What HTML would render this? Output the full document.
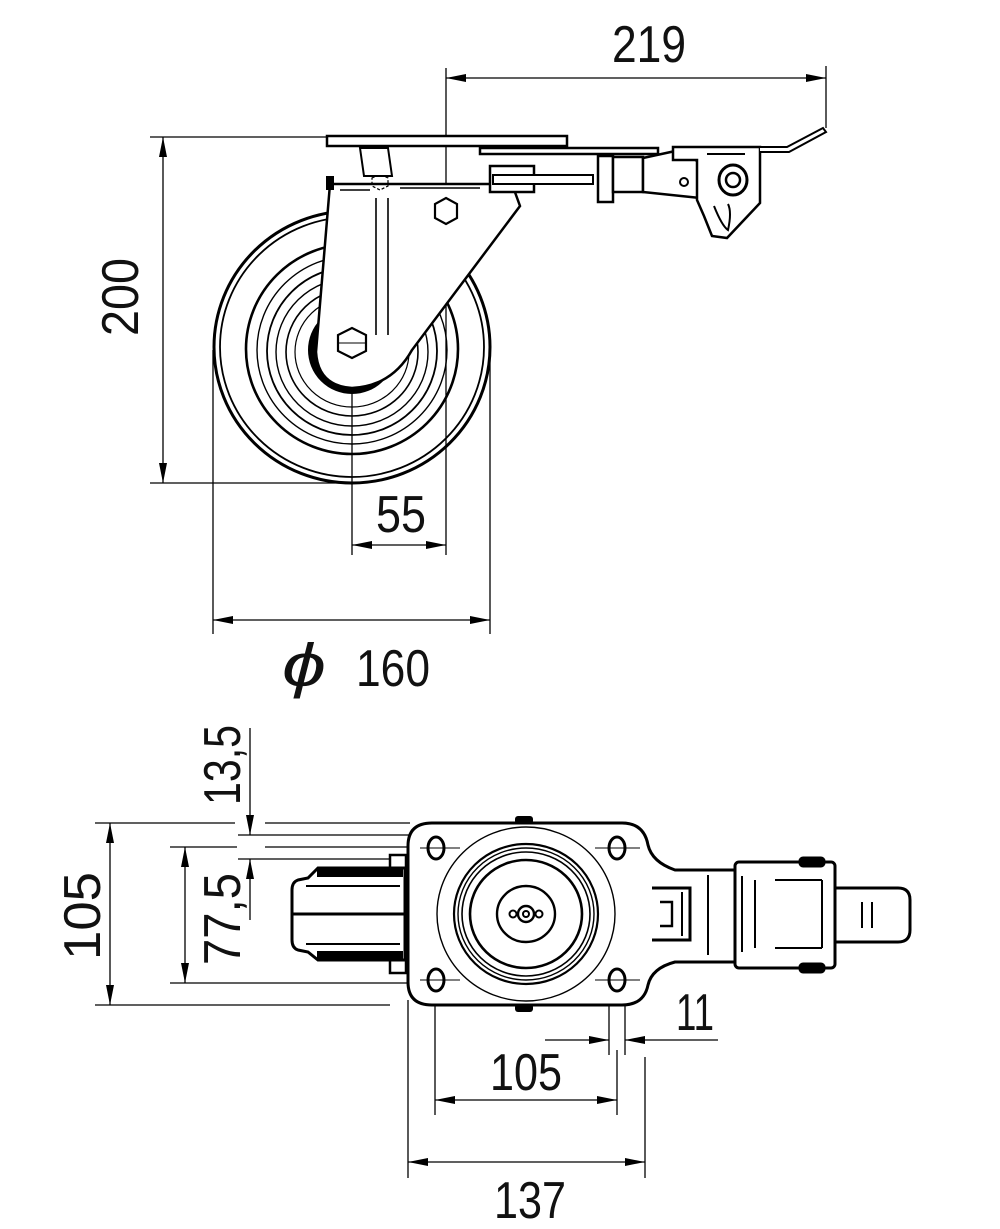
<!DOCTYPE html>
<html><head><meta charset="utf-8"><style>
html,body{margin:0;padding:0;background:#fff}
svg{display:block}
text{font-family:"Liberation Sans",sans-serif;fill:#111}
</style></head><body>
<svg width="1000" height="1229" viewBox="0 0 1000 1229" xmlns="http://www.w3.org/2000/svg">
<defs>
<marker id="a" viewBox="0 0 20 8" refX="20" refY="4" markerWidth="20" markerHeight="8" markerUnits="userSpaceOnUse" orient="auto-start-reverse"><path d="M0,0 L20,4 L0,8 z" fill="#000"/></marker>
</defs>
<g stroke="#000" stroke-width="1.3" fill="none">
<!-- TOP VIEW dimensions -->
<line x1="446" y1="68" x2="446" y2="555"/>
<line x1="826" y1="66" x2="826" y2="128"/>
<line x1="446" y1="78" x2="826" y2="78" marker-start="url(#a)" marker-end="url(#a)"/>
<line x1="150" y1="137" x2="330" y2="137"/>
<line x1="150" y1="483" x2="352" y2="483"/>
<line x1="163" y1="137" x2="163" y2="483" marker-start="url(#a)" marker-end="url(#a)"/>
<line x1="352" y1="330" x2="352" y2="555"/>
<line x1="352" y1="545" x2="446" y2="545" marker-start="url(#a)" marker-end="url(#a)"/>
<line x1="213" y1="350" x2="213" y2="634"/>
<line x1="490" y1="350" x2="490" y2="634"/>
<line x1="213" y1="620" x2="490" y2="620" marker-start="url(#a)" marker-end="url(#a)"/>
</g>
<g font-size="52">
<text x="612" y="62" textLength="74" lengthAdjust="spacingAndGlyphs">219</text>
<text transform="translate(138,336) rotate(-90)" textLength="78" lengthAdjust="spacingAndGlyphs">200</text>
<text x="376" y="532" textLength="50" lengthAdjust="spacingAndGlyphs">55</text>
<text x="282" y="686" font-size="60" font-style="italic" textLength="44" lengthAdjust="spacingAndGlyphs">ϕ</text>
<text x="356" y="686" textLength="74" lengthAdjust="spacingAndGlyphs">160</text>
</g>
<!-- WHEEL -->
<g stroke="#000" fill="none">
<ellipse cx="352" cy="347" rx="138" ry="136" stroke-width="3"/>
<ellipse cx="352" cy="347" rx="132" ry="130" stroke-width="1.8"/>
<ellipse cx="352" cy="349" rx="106" ry="105" stroke-width="2.6"/>
<ellipse cx="352" cy="350" rx="95" ry="94" stroke-width="1.4"/>
<ellipse cx="352" cy="351" rx="85" ry="84" stroke-width="1.8"/>
<ellipse cx="352" cy="352" rx="76" ry="74" stroke-width="1.4"/>
<ellipse cx="352" cy="352" rx="66" ry="64" stroke-width="1.6"/>
<ellipse cx="352" cy="352" rx="57" ry="55" stroke-width="1.2"/>
<ellipse cx="352" cy="350" rx="40" ry="40" stroke-width="8"/>
</g>
<!-- fork -->
<path d="M330,184 L512,184 L520,206 L412,350 Q392,386 352,388 Q318,386 316,352 Z" fill="#fff" stroke="#000" stroke-width="2.5"/>
<line x1="376" y1="198" x2="376" y2="335" stroke="#000" stroke-width="1.6"/>
<line x1="388" y1="198" x2="388" y2="335" stroke="#000" stroke-width="1.6"/>
<line x1="340" y1="190" x2="370" y2="190" stroke="#000" stroke-width="1.6"/>
<line x1="400" y1="188" x2="480" y2="188" stroke="#000" stroke-width="1.6"/>
<path d="M372,178 l8,-4 8,4 0,8 -8,4 -8,-4z" fill="none" stroke="#000" stroke-width="1.2" stroke-dasharray="3,2"/>
<polygon points="352,328 366,335 366,351 352,358 338,351 338,335" fill="#fff" stroke="#000" stroke-width="2.2"/>
<line x1="338" y1="343" x2="366" y2="343" stroke="#000" stroke-width="1"/>
<polygon points="446,198 457,204 457,218 446,224 435,218 435,204" fill="#fff" stroke="#000" stroke-width="2.2"/>
<rect x="326" y="176" width="8" height="14" fill="#000"/>
<!-- plate & brake -->
<g stroke="#000" fill="#fff" stroke-width="2.5">
<path d="M360,148 L388,148 L392,176 L364,176 Z" stroke-width="2"/>
<rect x="327" y="136" width="240" height="10"/>
<rect x="480" y="148" width="178" height="6"/>
<rect x="490" y="166" width="44" height="26"/>
<rect x="493" y="175" width="100" height="9" stroke-width="2"/>
<rect x="598" y="156" width="15" height="46"/>
<rect x="613" y="157" width="30" height="35"/>
<path d="M643,158 L680,150 L700,163 L700,198 L643,192 Z"/>
<path d="M673,147 L760,147 L760,203 L727,238 L712,236 L704,216 L697,200 L697,160 L673,160 Z"/>
<path d="M760,147 L787,147 L823,128 L826,132 L789,152 L760,152" stroke-width="2"/>
<ellipse cx="733" cy="180" rx="14" ry="15" stroke-width="3"/>
<circle cx="733" cy="180" r="7" stroke-width="2.5"/>
<circle cx="684" cy="182" r="4" stroke-width="2"/>
<path d="M714,206 Q722,226 728,230 Q732,212 728,204" stroke-width="2"/>
</g>
<line x1="707" y1="154" x2="745" y2="154" stroke="#000" stroke-width="2"/>

<!-- BOTTOM VIEW -->
<g stroke="#000" stroke-width="1.3" fill="none">
<line x1="95" y1="823" x2="235" y2="823"/><line x1="265" y1="823" x2="410" y2="823"/>
<line x1="95" y1="1005" x2="390" y2="1005"/>
<line x1="110" y1="823" x2="110" y2="1005" marker-start="url(#a)" marker-end="url(#a)"/>
<line x1="170" y1="847" x2="237" y2="847"/><line x1="265" y1="847" x2="420" y2="847"/>
<line x1="170" y1="983" x2="420" y2="983"/>
<line x1="185" y1="847" x2="185" y2="983" marker-start="url(#a)" marker-end="url(#a)"/>
<line x1="238" y1="835" x2="420" y2="835"/>
<line x1="238" y1="859" x2="420" y2="859"/>
<line x1="250" y1="728" x2="250" y2="835" marker-end="url(#a)"/>
<line x1="250" y1="920" x2="250" y2="859" marker-end="url(#a)"/>
<line x1="408" y1="1000" x2="408" y2="1178"/>
<line x1="435" y1="990" x2="435" y2="1115"/>
<line x1="617" y1="1050" x2="617" y2="1115"/>
<line x1="609" y1="990" x2="609" y2="1055"/>
<line x1="625" y1="990" x2="625" y2="1055"/>
<line x1="645" y1="1057" x2="645" y2="1178"/>
<line x1="435" y1="1100" x2="617" y2="1100" marker-start="url(#a)" marker-end="url(#a)"/>
<line x1="408" y1="1162" x2="645" y2="1162" marker-start="url(#a)" marker-end="url(#a)"/>
<line x1="545" y1="1040" x2="609" y2="1040" marker-end="url(#a)"/>
<line x1="718" y1="1040" x2="625" y2="1040" marker-end="url(#a)"/>
</g>
<g font-size="52">
<text transform="translate(100,960) rotate(-90)" textLength="88" lengthAdjust="spacingAndGlyphs">105</text>
<text transform="translate(240,965) rotate(-90)" textLength="92" lengthAdjust="spacingAndGlyphs">77,5</text>
<text transform="translate(240,805) rotate(-90)" textLength="80" lengthAdjust="spacingAndGlyphs">13,5</text>
<text x="490" y="1090" textLength="72" lengthAdjust="spacingAndGlyphs">105</text>
<text x="494" y="1218" textLength="72" lengthAdjust="spacingAndGlyphs">137</text>
<text x="676" y="1030" textLength="38" lengthAdjust="spacingAndGlyphs">11</text>
</g>
<!-- left wheel -->
<g stroke="#000" fill="#fff" stroke-width="3">
<rect x="390" y="855" width="16" height="118" stroke-width="2.5"/>
<path d="M405,868 L318,868 L308,878 L298,880 Q292,882 292,890 L292,940 Q292,948 298,950 L308,952 L318,960 L405,960 Z"/>
</g>
<g stroke="#000" stroke-width="2">
<line x1="306" y1="886" x2="400" y2="886"/>
<line x1="292" y1="914" x2="405" y2="914" stroke-width="3"/>
<line x1="306" y1="944" x2="400" y2="944"/>
<rect x="318" y="868" width="84" height="8" fill="#000"/>
<rect x="318" y="952" width="84" height="8" fill="#000"/>
</g>
<!-- plate -->
<path d="M432,823 L622,823 Q644,823 648,845 Q652,862 675,870 L735,870 L735,962 L675,962 Q652,968 648,985 Q644,1005 622,1005 L432,1005 Q408,1005 408,982 L408,846 Q408,823 432,823 Z" fill="#fff" stroke="#000" stroke-width="3"/>
<rect x="515" y="816" width="18" height="8" rx="3" fill="#000"/>
<rect x="515" y="1004" width="18" height="8" rx="3" fill="#000"/>
<g stroke="#000" fill="none">
<ellipse cx="526" cy="914" rx="89" ry="87" stroke-width="1.4"/>
<ellipse cx="526" cy="914" rx="72" ry="70" stroke-width="2.2"/>
<ellipse cx="526" cy="914" rx="68" ry="66" stroke-width="1.4"/>
<ellipse cx="526" cy="914" rx="64" ry="62" stroke-width="1.6"/>
<ellipse cx="526" cy="914" rx="56" ry="54" stroke-width="2.6"/>
<ellipse cx="526" cy="914" rx="29" ry="28" stroke-width="2.4"/>
<circle cx="526" cy="914" r="8" stroke-width="2.4"/>
<circle cx="526" cy="914" r="3" stroke-width="2"/>
<circle cx="513" cy="914" r="3.5" stroke-width="2"/>
<circle cx="539" cy="914" r="3.5" stroke-width="2"/>
</g>
<g stroke="#000" fill="#fff" stroke-width="3">
<ellipse cx="436" cy="848" rx="8" ry="11"/>
<ellipse cx="617" cy="848" rx="8" ry="11"/>
<ellipse cx="436" cy="980" rx="8" ry="11"/>
<ellipse cx="617" cy="980" rx="8" ry="11"/>
</g>
<g stroke="#000" stroke-width="1">
<line x1="420" y1="848" x2="460" y2="848"/><line x1="595" y1="848" x2="640" y2="848"/>
<line x1="420" y1="980" x2="460" y2="980"/><line x1="595" y1="980" x2="640" y2="980"/>
</g>
<!-- right lock parts -->
<g stroke="#000" fill="#fff" stroke-width="3">
<path d="M652,888 L690,888 L690,940 L652,940"/>
<path d="M660,902 L672,902 L672,926 L660,926" stroke-width="2.4"/>
<line x1="682" y1="892" x2="682" y2="936" stroke-width="2"/>
<rect x="735" y="862" width="100" height="106" rx="4"/>
<path d="M835,888 L898,888 Q910,888 910,900 L910,930 Q910,942 898,942 L835,942 Z"/>
<rect x="800" y="858" width="24" height="8" rx="3" fill="#000"/>
<rect x="800" y="964" width="24" height="8" rx="3" fill="#000"/>
</g>
<g stroke="#000" stroke-width="2" fill="none">
<line x1="742" y1="876" x2="742" y2="952"/>
<line x1="755" y1="880" x2="755" y2="948"/>
<line x1="775" y1="880" x2="822" y2="880"/>
<line x1="775" y1="948" x2="822" y2="948"/>
<line x1="822" y1="880" x2="822" y2="948"/>
<line x1="862" y1="902" x2="862" y2="928"/>
<line x1="872" y1="902" x2="872" y2="928"/>
<line x1="708" y1="875" x2="708" y2="955"/>
</g>
</svg>
</body></html>
